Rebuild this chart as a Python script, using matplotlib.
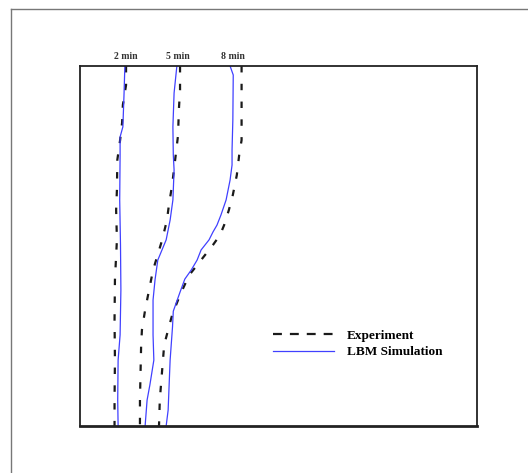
import matplotlib.pyplot as plt
from matplotlib.lines import Line2D

# Front positions (x, % of width) against height (y, % of depth)
lbm_2_y = [100, 92.5, 83.1, 80.3, 75.3, 62.8, 50.3, 37.8, 25.3, 18.3, 7.2, 0]
lbm_2_x = [11.3, 11.1, 10.8, 10.1, 10.1, 10.0, 10.2, 10.3, 10.1, 9.6, 9.5, 9.6]

exp_2_y = [100, 94.7, 89.2, 84.2, 79.4, 73.9, 65.6, 60, 51.7, 40.6, 29.4, 18.3, 7.2, 0]
exp_2_x = [11.6, 11.6, 10.8, 10.6, 10.1, 9.4, 9.3, 9.1, 9.3, 8.8, 8.7, 8.8, 8.7, 8.7]

lbm_5_y = [100, 92.5, 83.1, 75.3, 71.1, 62.8, 57.2, 51.7, 46.1, 40.6, 35, 25.3, 18.3, 11.4, 7.2, 0]
lbm_5_x = [24.4, 23.7, 23.4, 23.5, 23.7, 23.4, 22.7, 21.7, 19.6, 18.9, 18.4, 18.4, 18.6, 17.6, 16.9, 16.4]

exp_5_y = [100, 93.3, 87.8, 80.8, 76.1, 66.9, 61.4, 57.2, 51.7, 43.3, 37.8, 32.2, 26.7, 22.5, 7.2, 0]
exp_5_x = [25.2, 25.2, 24.9, 24.7, 24.2, 23.2, 22.4, 21.9, 20.7, 18.4, 17.4, 16.4, 15.6, 15.4, 15.1, 15.1]

lbm_8_y = [100, 97.5, 85, 76.7, 72.5, 68.3, 62.8, 58.6, 55.8, 53.9, 51.7, 48.9, 46.1, 43.3,
           40.8, 37.2, 34.7, 31.9, 27.5, 18.3, 10, 4.4, 0]
lbm_8_x = [37.8, 38.6, 38.5, 38.3, 38.3, 37.8, 36.8, 35.5, 34.5, 33.5, 32.5, 30.5, 29.5, 28,
           26.4, 25.2, 24.4, 23.5, 23.3, 22.7, 22.4, 22.2, 21.7]

exp_8_y = [100, 79.4, 75.3, 69.7, 64.2, 60, 55.8, 53.1, 50.3, 46.1, 41.9, 36.4, 30.8, 26.7,
           22.5, 15.6, 7.2, 0]
exp_8_x = [40.7, 40.7, 40.1, 39.5, 38.5, 37.5, 36.3, 35.3, 33.5, 30.5, 27.5, 25.2, 23.2, 22.2,
           21.2, 20.7, 20.1, 19.9]

time_labels = ['2 min', '5 min', '8 min']
label_x = [11.6, 24.7, 38.5]

plt.rcParams['font.family'] = ['Liberation Serif', 'DejaVu Serif']

fig = plt.figure(figsize=(5.28, 4.73), dpi=100)
ax = fig.add_axes([80 / 528, 47 / 473, 397 / 528, 360 / 473])

exp_color = '#1a1a1a'
lbm_color = '#4040ff'
exp_style = dict(color=exp_color, lw=1.6, linestyle=(0, (2.9, 5.1)))
lbm_style = dict(color=lbm_color, lw=0.9)

ax.plot(exp_2_x, exp_2_y, **exp_style)
ax.plot(lbm_2_x, lbm_2_y, **lbm_style)
ax.plot(exp_5_x, exp_5_y, **exp_style)
ax.plot(lbm_5_x, lbm_5_y, **lbm_style)
ax.plot(exp_8_x, exp_8_y, **exp_style)
ax.plot(lbm_8_x, lbm_8_y, **lbm_style)

for x, txt in zip(label_x, time_labels):
    ax.text(x, 1.015, txt, transform=ax.get_xaxis_transform(), ha='center', va='bottom',
            fontsize=7, fontweight='bold', color='#333333')

ax.set_xlim(0, 100)
ax.set_ylim(0, 100)
ax.set_xticks([])
ax.set_yticks([])
for side in ['top', 'right', 'left']:
    ax.spines[side].set_linewidth(1.3)
    ax.spines[side].set_color('#222222')
ax.spines['bottom'].set_linewidth(2)
ax.spines['bottom'].set_color('#222222')

# legend handles use longer dashes than the curves
handles = [Line2D([], [], color=exp_color, lw=1.6, linestyle=(0, (4.0, 3.6))),
           Line2D([], [], **lbm_style)]
ax.legend(handles, ['Experiment', 'LBM Simulation'],
          loc='center left', bbox_to_anchor=(0.486, 0.228), frameon=False,
          borderpad=0, borderaxespad=0, handlelength=4.6, handletextpad=1.0,
          labelspacing=0.35, prop={'weight': 'bold', 'size': 9.5})

# thin gray page border along the top and left edges
fig.add_artist(Line2D([11 / 528, 1], [1 - 9 / 473, 1 - 9 / 473], color='#777777', lw=1))
fig.add_artist(Line2D([11 / 528, 11 / 528], [0, 1 - 9 / 473], color='#777777', lw=1))

fig.savefig('out.png', dpi=100, facecolor='white')
